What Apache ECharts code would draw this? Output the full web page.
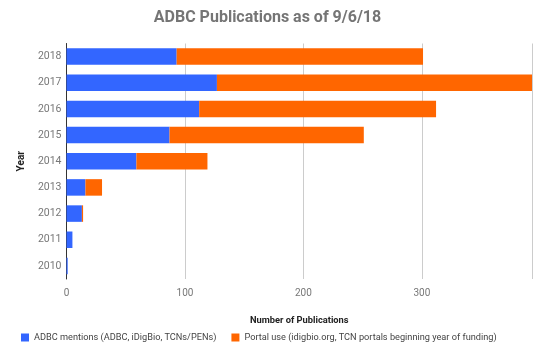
<!DOCTYPE html>
<html><head><meta charset="utf-8">
<script src="https://cdn.jsdelivr.net/npm/echarts@6/dist/echarts.min.js"></script>
<style>html,body{margin:0;padding:0;background:#fff}#c{width:535px;height:349px}</style>
</head><body><div id="c"></div>
<script>
var years = ['2010','2011','2012','2013','2014','2015','2016','2017','2018'];
var adbcMentions = [1, 5, 13, 16, 59, 87, 112, 127, 93];
var portalUse = [0, 0, 1, 14, 60, 164, 200, 285, 208];
var xTicks = [0, 100, 200, 300];
var chart = echarts.init(document.getElementById('c'));
var font = 'Roboto, Arial, sans-serif';
chart.setOption({
  animation: false,
  title: {text: 'ADBC Publications as of 9/6/18', left: 'center', top: 5,
    textStyle: {fontFamily: font, fontSize: 16, fontWeight: 'bold', color: '#757575'}},
  legend: {bottom: 2, left: 16, width: 530, itemWidth: 8, itemHeight: 8, itemGap: 15, icon: 'rect',
    textStyle: {fontFamily: font, fontSize: 9.2, color: '#444'}},
  grid: {left: 66.5, right: 0, top: 43.5, height: 235.5, containLabel: false},
  xAxis: {type: 'value', min: 0, max: 393, interval: 100,
    name: 'Number of Publications', nameLocation: 'middle', nameGap: 37,
    nameTextStyle: {fontFamily: font, fontSize: 9.3, fontWeight: 'bold', color: '#222'},
    axisLine: {show: false}, axisTick: {show: false},
    axisLabel: {fontFamily: font, fontSize: 10, color: '#777', margin: 9,
      formatter: function (v) { return xTicks.indexOf(v) >= 0 ? String(v) : ''; }},
    splitLine: {lineStyle: {color: '#ccc', width: 1}}},
  yAxis: {type: 'category', data: years,
    name: 'Year', nameLocation: 'middle', nameGap: 40, nameRotate: 90,
    nameTextStyle: {fontFamily: font, fontSize: 10, fontWeight: 'bold', color: '#222'},
    axisLine: {lineStyle: {color: '#333'}}, axisTick: {show: false},
    axisLabel: {fontFamily: font, fontSize: 10.5, color: '#777', margin: 5}},
  series: [
    {name: 'ADBC mentions (ADBC, iDigBio, TCNs/PENs)', type: 'bar', stack: 's',
      data: adbcMentions, barWidth: 16.5, itemStyle: {color: '#3366ff'}},
    {name: 'Portal use (idigbio.org, TCN portals beginning year of funding)', type: 'bar', stack: 's',
      data: portalUse, barWidth: 16.5, itemStyle: {color: '#ff6600'}}
  ]
});
</script></body></html>
